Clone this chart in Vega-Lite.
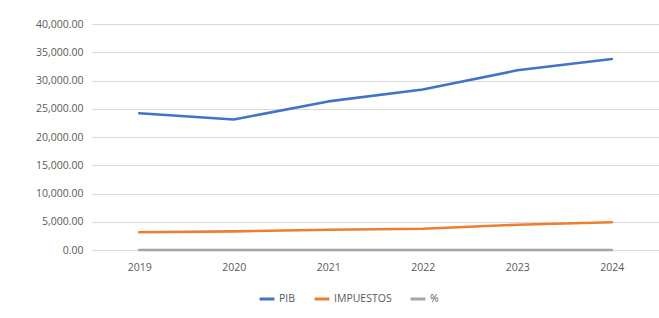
{
  "$schema": "https://vega.github.io/schema/vega-lite/v6.json",
  "autosize": "none",
  "width": 567,
  "height": 226,
  "padding": {"left": 92, "top": 24, "right": 0, "bottom": 68},
  "background": "white",
  "config": {
    "view": {"stroke": null},
    "font": "Open Sans",
    "axis": {"labelColor": "#595959", "labelFontSize": 10.5, "titleColor": "#595959"},
    "legend": {"labelColor": "#595959", "labelFontSize": 10.5}
  },
  "data": {
    "values": [
      {"year": "2019", "serie": "PIB", "valor": 24200},
      {"year": "2020", "serie": "PIB", "valor": 23100},
      {"year": "2021", "serie": "PIB", "valor": 26300},
      {"year": "2022", "serie": "PIB", "valor": 28400},
      {"year": "2023", "serie": "PIB", "valor": 31800},
      {"year": "2024", "serie": "PIB", "valor": 33800},
      {"year": "2019", "serie": "IMPUESTOS", "valor": 3130},
      {"year": "2020", "serie": "IMPUESTOS", "valor": 3300},
      {"year": "2021", "serie": "IMPUESTOS", "valor": 3590},
      {"year": "2022", "serie": "IMPUESTOS", "valor": 3770},
      {"year": "2023", "serie": "IMPUESTOS", "valor": 4480},
      {"year": "2024", "serie": "IMPUESTOS", "valor": 4900},
      {"year": "2019", "serie": "%", "valor": 0.13},
      {"year": "2020", "serie": "%", "valor": 0.14},
      {"year": "2021", "serie": "%", "valor": 0.14},
      {"year": "2022", "serie": "%", "valor": 0.13},
      {"year": "2023", "serie": "%", "valor": 0.14},
      {"year": "2024", "serie": "%", "valor": 0.14}
    ]
  },
  "mark": {"type": "line", "strokeWidth": 2.6, "strokeCap": "round", "strokeJoin": "round"},
  "encoding": {
    "x": {
      "field": "year", "type": "ordinal", "title": null,
      "scale": {"paddingInner": 0, "paddingOuter": 0.5},
      "axis": {"labelAngle": 0, "ticks": false, "domain": false, "grid": false, "labelPadding": 12}
    },
    "y": {
      "field": "valor", "type": "quantitative", "title": null,
      "scale": {"domain": [0, 40000], "nice": false},
      "axis": {"format": ",.2f", "values": [0,5000,10000,15000,20000,25000,30000,35000,40000], "ticks": false, "domain": false, "gridColor": "#d9d9d9", "gridWidth": 1, "labelPadding": 9}
    },
    "color": {
      "field": "serie", "type": "nominal", "title": null,
      "scale": {"domain": ["PIB", "IMPUESTOS", "%"], "range": ["#4472c4", "#ed7d31", "#a5a5a5"]},
      "legend": {"orient": "none", "legendX": 166, "legendY": 266, "direction": "horizontal", "symbolType": "stroke", "symbolStrokeWidth": 3, "symbolSize": 220, "columnPadding": 12, "labelOffset": 3}
    }
  }
}
